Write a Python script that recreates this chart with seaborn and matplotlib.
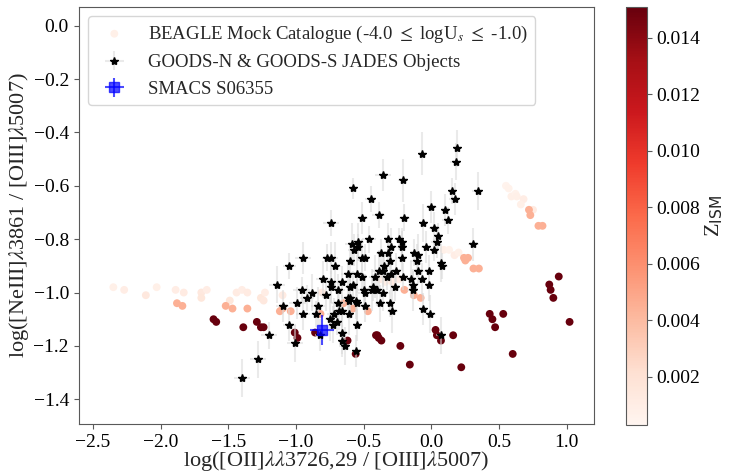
import numpy as np
import pandas as pd
import seaborn as sns
import matplotlib
matplotlib.use('Agg')
import matplotlib.pyplot as plt
from matplotlib.colors import Normalize
from matplotlib.cm import ScalarMappable

sns.set_style('ticks')
plt.rcParams['font.family'] = ['Liberation Serif', 'DejaVu Sans']
plt.rcParams['mathtext.fontset'] = 'stix'
plt.rcParams['axes.edgecolor'] = '0.35'
plt.rcParams['xtick.color'] = '0.35'
plt.rcParams['ytick.color'] = '0.35'
plt.rcParams['xtick.labelcolor'] = 'black'
plt.rcParams['ytick.labelcolor'] = 'black'

# BEAGLE mock catalogue: log([OII]/[OIII]), log([NeIII]/[OIII]), Z_ISM
beagle_x = [-2.35, -2.27, -2.11, -2.03, -1.89, -1.83, -1.70, -1.66, -1.70, -1.49,
            -1.44, -1.40, -1.36, -1.26, -1.24, -1.23, -1.10, -0.81,
            0.55, 0.57, 0.59, 0.62, 0.63, 0.68, 0.66, 0.75,
            0.09, 0.13, 0.17, 0.20, -0.38, -0.34, -0.29, -0.24,
            -1.88, -1.84, -1.52, -1.47, -1.36, -1.12, -1.10, -1.04, -0.82,
            0.72, 0.73, 0.79, 0.82, 0.24, 0.25, 0.27, 0.31, 0.35,
            -0.20, -0.13, -0.08, -0.65, -0.58, -0.47,
            -1.61, -1.59, -1.39, -1.29, -1.26, -1.24, -1.01, -0.99, -0.86, -0.62,
            -0.56, -0.40, 0.94, 0.87, 0.88, 0.90, 1.02, 0.43, 0.45, 0.53, 0.47,
            0.60, 0.22, -0.16, -0.23, -0.37, -0.41, -0.39, 0.03, 0.04, 0.07, 0.16]
beagle_y = [-0.98, -0.99, -1.01, -0.98, -0.99, -1.00, -1.00, -0.99, -1.02, -1.03,
            -1.00, -0.99, -1.00, -1.02, -1.03, -1.00, -1.01, -1.00,
            -0.60, -0.61, -0.64, -0.63, -0.64, -0.65, -0.67, -0.69,
            -0.84, -0.84, -0.86, -0.85, -0.95, -0.96, -0.96, -0.95,
            -1.04, -1.05, -1.05, -1.06, -1.06, -1.07, -1.06, -1.07, -1.08,
            -0.69, -0.71, -0.75, -0.75, -0.87, -0.88, -0.87, -0.91, -0.91,
            -0.99, -1.01, -1.02, -1.04, -1.06, -1.07,
            -1.10, -1.11, -1.13, -1.11, -1.13, -1.13, -1.15, -1.17, -1.15, -1.18,
            -1.23, -1.16, -0.94, -0.97, -0.99, -1.02, -1.11, -1.08, -1.10, -1.08, -1.13,
            -1.23, -1.28, -1.27, -1.20, -1.18, -1.16, -1.17, -1.14, -1.16, -1.18, -1.16]
beagle_z = [0.0008, 0.0010, 0.0014, 0.0008, 0.0010, 0.0012, 0.0014, 0.0010, 0.0016, 0.0016,
            0.0012, 0.0010, 0.0012, 0.0016, 0.0014, 0.0010, 0.0012, 0.0012,
            0.0005, 0.0006, 0.0008, 0.0006, 0.0008, 0.0010, 0.0008, 0.0012,
            0.0008, 0.0006, 0.0010, 0.0008, 0.0010, 0.0008, 0.0012, 0.0010,
            0.0045, 0.0045, 0.0045, 0.0045, 0.0045, 0.0045, 0.0045, 0.0045, 0.0045,
            0.0045, 0.0045, 0.0045, 0.0045, 0.0045, 0.0045, 0.0045, 0.0045, 0.0045,
            0.0045, 0.0045, 0.0045, 0.0045, 0.0045, 0.0045,
            0.0151, 0.0151, 0.0151, 0.0151, 0.0151, 0.0151, 0.0151, 0.0151, 0.0151, 0.0151,
            0.0151, 0.0151, 0.0151, 0.0151, 0.0151, 0.0151, 0.0151, 0.0151, 0.0151, 0.0151, 0.0151,
            0.0151, 0.0151, 0.0151, 0.0151, 0.0151, 0.0151, 0.0151, 0.0151, 0.0151, 0.0151, 0.0151]

# GOODS-N & GOODS-S JADES objects
jades_x = [-0.07, 0.19, 0.18, -0.36, -0.21, -0.58, -0.45, 0.34, 0.15, 0.17,
           0.00, 0.10, 0.12, -0.74, -0.51, -0.39, -0.20, -0.06, 0.02, 0.05,
           0.04, -0.46, -0.54, -0.32, -0.24, -0.22, -0.22, -0.59, -0.54, -0.30,
           -0.04, 0.02, 0.31, -0.13, -0.10, -0.11, -0.22, -0.31, -0.37, -0.32,
           -0.57, -0.51, -0.49, -0.74, -0.71, -0.60, -0.35, -0.39, -0.36, -0.21,
           -0.26, -0.30, -0.33, -0.42, -0.51, -0.55, -0.62, -0.66, -0.74, -0.10,
           -0.02, 0.07, 0.08, -0.07, -0.15, -0.14, -0.14, -0.02, -0.27, -0.36,
           -0.40, -0.43, -0.44, -0.50, -0.49, -0.58, -0.69, -0.60, -0.62, -0.61,
           -0.56, -0.55, -0.49, -0.69, -0.68, -0.66, -0.61, -0.72, -0.38, -0.31,
           -0.29, -0.06, -0.01, -0.55, -0.70, -0.73, -0.66, -0.66, -0.64, -0.56,
           0.07, -0.95, -0.77, -0.80, -0.74, -0.96, -0.88, -0.78, -0.92, -0.99,
           -0.84, -0.75, -0.95, -0.85, -1.01, -0.82, -1.05, -1.14, -1.10, -1.05,
           -1.20, -1.28, -1.40, -0.60]
jades_y = [-0.48, -0.46, -0.51, -0.56, -0.58, -0.61, -0.65, -0.62, -0.62, -0.65,
           -0.68, -0.69, -0.73, -0.74, -0.72, -0.71, -0.72, -0.74, -0.76, -0.79,
           -0.81, -0.80, -0.81, -0.80, -0.80, -0.81, -0.83, -0.82, -0.83, -0.83,
           -0.83, -0.84, -0.82, -0.85, -0.86, -0.88, -0.87, -0.88, -0.85, -0.85,
           -0.84, -0.87, -0.87, -0.87, -0.90, -0.88, -0.90, -0.92, -0.92, -0.94,
           -0.92, -0.93, -0.94, -0.94, -0.94, -0.93, -0.93, -0.96, -0.96, -0.92,
           -0.92, -0.89, -0.90, -0.95, -0.95, -0.97, -0.99, -0.97, -0.98, -1.00,
           -0.99, -0.98, -0.99, -0.99, -1.00, -0.97, -0.99, -1.02, -1.02, -1.03,
           -1.03, -1.04, -1.05, -1.04, -1.07, -1.07, -1.08, -1.08, -1.04, -1.04,
           -1.07, -1.06, -1.08, -1.12, -1.11, -1.12, -1.15, -1.18, -1.20, -1.22,
           -1.16, -0.87, -0.87, -0.95, -0.98, -0.99, -1.00, -1.01, -1.02, -1.04,
           -1.05, -1.10, -1.08, -1.08, -1.19, -1.16, -0.90, -0.97, -1.05, -1.12,
           -1.16, -1.25, -1.32, -0.98]
jades_xerr = [0.03, 0.03, 0.04, 0.06, 0.04, 0.03, 0.04, 0.04, 0.03, 0.04,
              0.04, 0.03, 0.04, 0.06, 0.04, 0.05, 0.04, 0.03, 0.04, 0.03,
              0.04, 0.05, 0.04, 0.03, 0.04, 0.03, 0.04, 0.05, 0.04, 0.03,
              0.04, 0.03, 0.04, 0.03, 0.04, 0.05, 0.04, 0.03, 0.04, 0.03,
              0.05, 0.04, 0.03, 0.05, 0.04, 0.03, 0.04, 0.05, 0.03, 0.04,
              0.03, 0.04, 0.05, 0.04, 0.03, 0.04, 0.05, 0.04, 0.06, 0.03,
              0.04, 0.03, 0.04, 0.03, 0.04, 0.03, 0.04, 0.03, 0.04, 0.05,
              0.03, 0.04, 0.03, 0.04, 0.05, 0.04, 0.05, 0.03, 0.04, 0.03,
              0.04, 0.03, 0.04, 0.05, 0.04, 0.03, 0.04, 0.05, 0.04, 0.03,
              0.04, 0.03, 0.04, 0.03, 0.04, 0.05, 0.04, 0.03, 0.04, 0.03,
              0.04, 0.06, 0.04, 0.05, 0.04, 0.06, 0.05, 0.04, 0.05, 0.06,
              0.05, 0.04, 0.05, 0.04, 0.06, 0.04, 0.05, 0.06, 0.05, 0.05,
              0.06, 0.06, 0.06, 0.04]
jades_yerr = [0.08, 0.07, 0.07, 0.06, 0.08, 0.04, 0.05, 0.07, 0.05, 0.06,
              0.06, 0.06, 0.05, 0.05, 0.06, 0.05, 0.05, 0.07, 0.06, 0.05,
              0.06, 0.05, 0.07, 0.06, 0.04, 0.05, 0.06, 0.08, 0.05, 0.07,
              0.06, 0.04, 0.06, 0.05, 0.08, 0.06, 0.05, 0.07, 0.05, 0.04,
              0.06, 0.07, 0.05, 0.06, 0.09, 0.06, 0.05, 0.08, 0.06, 0.05,
              0.07, 0.06, 0.05, 0.08, 0.06, 0.07, 0.05, 0.06, 0.08, 0.05,
              0.06, 0.07, 0.05, 0.06, 0.07, 0.05, 0.08, 0.06, 0.05, 0.07,
              0.06, 0.05, 0.08, 0.06, 0.07, 0.05, 0.06, 0.08, 0.05, 0.06,
              0.07, 0.09, 0.06, 0.05, 0.07, 0.06, 0.08, 0.06, 0.07, 0.05,
              0.08, 0.06, 0.07, 0.06, 0.05, 0.07, 0.08, 0.06, 0.07, 0.06,
              0.07, 0.06, 0.05, 0.07, 0.06, 0.05, 0.07, 0.06, 0.05, 0.06,
              0.07, 0.08, 0.06, 0.05, 0.07, 0.06, 0.05, 0.07, 0.06, 0.06,
              0.05, 0.07, 0.07, 0.06]

# SMACS S06355
smacs_x = [-0.81]
smacs_y = [-1.14]
smacs_xerr = [0.09]
smacs_yerr = [0.055]

z_min, z_max = 0.0003, 0.0151

beagle = pd.DataFrame({'x': beagle_x, 'y': beagle_y, 'z': beagle_z})

fig = plt.figure(figsize=(7.34, 4.75), dpi=100)
ax = fig.add_axes([0.1072, 0.1074, 0.7020, 0.8785])
cax = fig.add_axes([0.8529, 0.1053, 0.0286, 0.8806])

sns.scatterplot(data=beagle, x='x', y='y', hue='z', palette='Reds',
                hue_norm=(z_min, z_max), s=32, linewidth=0, legend=False,
                ax=ax, label=r'BEAGLE Mock Catalogue (-4.0 $\leq$ logU$_s$ $\leq$ -1.0)')

ax.errorbar(jades_x, jades_y, xerr=jades_xerr, yerr=jades_yerr, fmt='*',
            color='black', ms=6, ecolor=(0.85, 0.85, 0.85, 0.55), elinewidth=1.5,
            label='GOODS-N & GOODS-S JADES Objects')
ax.errorbar(smacs_x, smacs_y, xerr=smacs_xerr, yerr=smacs_yerr, fmt='s',
            color='blue', ms=7, alpha=0.7, elinewidth=1.5, label='SMACS S06355')

ax.set_xlim(-2.606, 1.20)
ax.set_ylim(-1.4925, 0.071)
ax.set_xlabel(r'log([OII]$\lambda\lambda$3726,29 / [OIII]$\lambda$5007)', fontsize=16, labelpad=-1)
ax.set_ylabel(r'log([NeIII]$\lambda$3861 / [OIII]$\lambda$5007)', fontsize=16, labelpad=2)
ax.tick_params(labelsize=14)
ax.legend(loc='upper left', fontsize=13.5, frameon=True)

sm = ScalarMappable(norm=Normalize(z_min, z_max), cmap='Reds')
cb = fig.colorbar(sm, cax=cax)
cb.set_label(r'Z$_{\rm ISM}$', fontsize=16, labelpad=2, math_fontfamily='dejavusans')
cb.ax.tick_params(labelsize=14)
cb.outline.set_edgecolor('0.35')

fig.savefig('out.png', dpi=100)
